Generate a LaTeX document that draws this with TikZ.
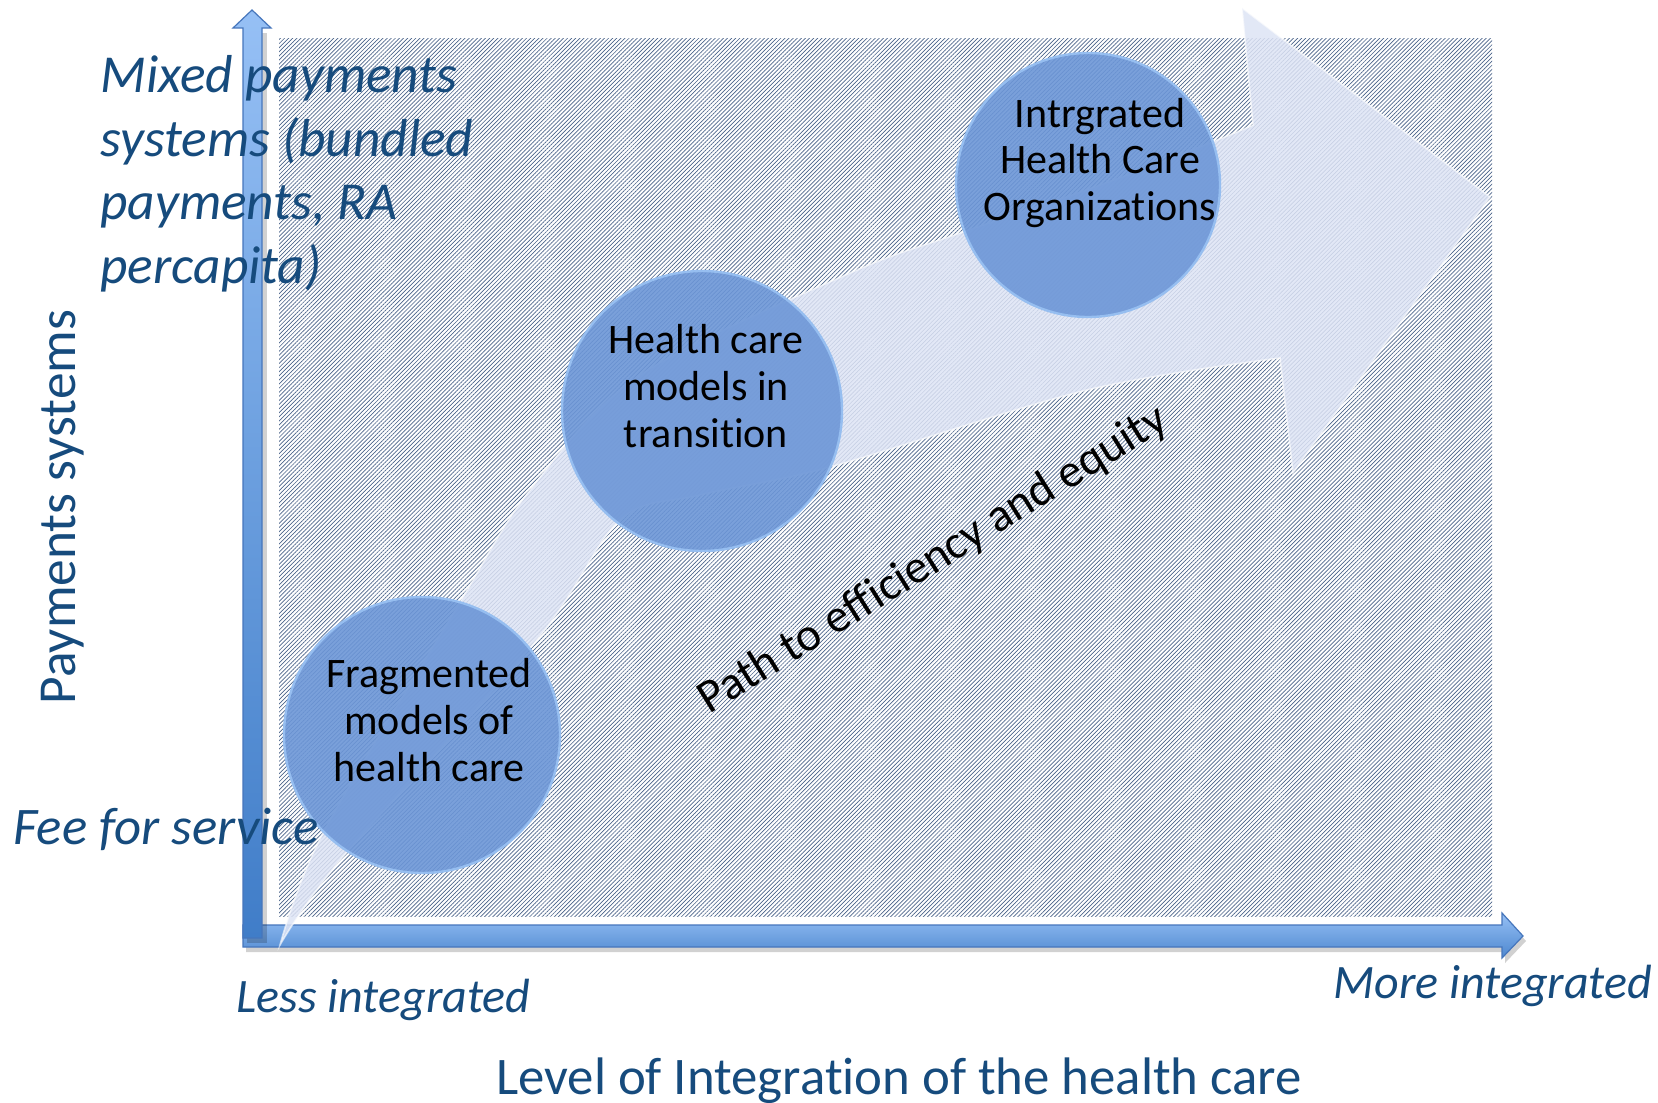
\documentclass[tikz,border=0pt]{standalone}
\usepackage{fontspec}
\setmainfont{Carlito}[Ligatures={NoCommon,NoContextual}]
\usetikzlibrary{patterns.meta}
\definecolor{hatchcol}{RGB}{75,100,138}
\definecolor{bandfill}{RGB}{222,228,245}
\definecolor{bubblefill}{RGB}{108,150,215}
\definecolor{bubbleedge}{RGB}{150,190,240}
\definecolor{axislight}{RGB}{150,192,245}
\definecolor{axisdark}{RGB}{64,125,200}
\definecolor{axisedge}{RGB}{70,118,188}
\definecolor{axistext}{RGB}{22,75,125}

\tikzset{
  bubble/.style={circle, draw=bubbleedge, line width=1.2pt, fill=bubblefill, fill opacity=0.9, inner sep=0pt},
  bubbletext/.style={align=center, text=black, inner sep=0pt, font=\fontsize{21}{23.3}\selectfont},
  axislabel/.style={text=axistext, inner sep=0pt, font=\fontsize{24}{29}\selectfont\itshape},
}

\begin{document}
\begin{tikzpicture}[x=0.5pt, y=-0.5pt]
  \useasboundingbox (0,0) rectangle (1658,1102);
  \fill[white] (0,0) rectangle (1658,1102);

  % hatched panel
  \fill[pattern={Lines[angle=45,distance=1.45pt,line width=0.34pt]}, pattern color=hatchcol]
    (279,39) rectangle (1492,916);

  % axes
  \fill[black, opacity=0.18] (246,930) -- (1505,930) -- (1505,918) -- (1526,941) -- (1505,963) -- (1505,952) -- (246,952) -- cycle;
  \shade[top color=axislight, bottom color=axisdark!85!axislight, draw=axisedge, line width=0.6pt]
    (243,925) -- (1502,925) -- (1502,913) -- (1523,936) -- (1502,958) -- (1502,947) -- (243,947) -- cycle;
  \fill[black, opacity=0.18] (247,943) -- (247,33) -- (267,33) -- (267,943) -- cycle;
  \shade[top color=axislight, bottom color=axisdark, draw=axisedge, line width=0.6pt]
    (243,938) -- (243,28) -- (233,28) -- (252,10) -- (271,28) -- (262,28) -- (262,938) -- cycle;

  % path arrow
  \fill[bandfill, fill opacity=0.85, draw=white, draw opacity=0.6, line width=0.8pt]
    (280,945) -- plot[smooth, tension=0.55] coordinates {(280,945) (323,833) (457,607) (530,490) (640,375) (850,273) (960,233) (1100,185) (1217,140) (1253,125)}
    -- (1242,8) -- (1490,197) -- (1293,473) -- (1280,358)
    -- plot[smooth, tension=0.55] coordinates {(1280,358) (1087,390) (830,467) (700,495) (620,520) (537,640) (342,858) (280,945)}
    -- cycle;

  % stages
  \node[bubble, minimum size=138pt] (frag) at (422,735) {};
  \node[bubble, minimum size=140pt] (trans) at (702,411) {};
  \node[bubble, minimum size=132pt] (integ) at (1088,185) {};
  \node[bubbletext] (frag-t) at ([yshift=7.5pt,xshift=3.5pt]frag.center) {Fragmented\\models of\\health care};
  \node[bubbletext] (trans-t) at ([yshift=12.5pt,xshift=2pt]trans.center) {Health care\\models in\\transition};
  \node[bubbletext] (integ-t) at ([yshift=11pt,xshift=6pt]integ.center) {Intrgrated\\Health Care\\Organizations};

  \node[rotate=32, anchor=base, inner sep=0pt, font=\fontsize{23.5}{28}\selectfont] (path) at (940,571) {Path to efficiency and equity};

  % axis labels
  \node[axislabel, anchor=north west, align=left, font=\fontsize{26.7}{31.8}\selectfont\itshape] (mixed) at (100,55)
    {Mixed payments\\systems (bundled\\payments, RA\\percapita)};
  \node[axislabel, anchor=base west, font=\fontsize{26.4}{31}\selectfont\itshape] (fee) at (13,844) {Fee for service};
  \node[axislabel, anchor=base, rotate=90, font=\fontsize{26.7}{31}\selectfont] (ylab) at (75,507) {Payments systems};
  \node[axislabel, anchor=base west] (less) at (236,1012) {Less integrated};
  \node[axislabel, anchor=base west] (more) at (1333,998) {More integrated};
  \node[axislabel, anchor=base, font=\fontsize{26.4}{31}\selectfont] (xlab) at (899,1094) {Level of Integration of the health care};
\end{tikzpicture}
\end{document}
